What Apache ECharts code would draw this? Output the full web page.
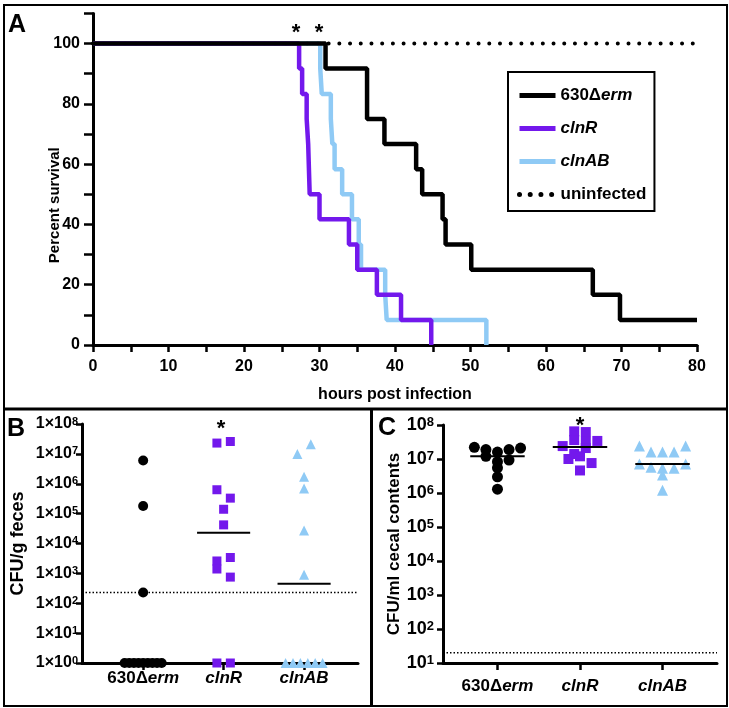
<!DOCTYPE html>
<html>
<head>
<meta charset="utf-8">
<title>Survival and colonisation</title>
<script src="https://cdn.jsdelivr.net/npm/echarts@6/dist/echarts.min.js"></script>
<style>
  html, body { margin: 0; padding: 0; background: #fff; }
  #main { width: 729px; height: 708px; }
</style>
</head>
<body>
<div id="main"></div>
<script>
// A: survival, hours post infection vs percent surviving
const wtTimes    = [0, 30.8, 36.3, 38.6, 42.8, 43.6, 46.3, 46.7, 50.1, 66.2, 69.8, 80];
const wtSurv     = [100, 91.7, 75, 66.7, 58.3, 50, 41.7, 33.3, 25, 16.7, 8.3, 8.3];
const clnRTimes  = [0, 27.3, 27.7, 28.3, 28.5, 28.7, 30.0, 33.9, 35.0, 37.6, 40.8, 44.8];
const clnRSurv   = [100, 91.7, 83.3, 75, 66.7, 50, 41.7, 33.3, 25, 16.7, 8.3, 0];
const clnABTimes = [0, 30.1, 30.3, 31.5, 31.7, 32.0, 33.0, 34.3, 35.2, 35.5, 38.7, 38.9, 52.1];
const clnABSurv  = [100, 91.7, 83.3, 75, 66.7, 58.3, 50, 41.7, 33.3, 25, 16.7, 8.3, 0];
const uninfTimes = [0, 80];
const uninfSurv  = [100, 100];

// B / C: CFU per group (undetected feces plotted at 1)
const groups      = ['630Δerm', 'clnR', 'clnAB'];
const fecesWT     = [6e6, 1.8e5, 230, 1, 1, 1, 1, 1, 1, 1, 1, 1];
const fecesClnR   = [2600, 2.3e7, 1.4e5, 1400, 1, 6.3e5, 4.2e4, 2.6e7, 3.3e5, 3400, 750, 1];
const fecesClnAB  = [1e7, 1.7e6, 2.7e4, 900, 2.1e7, 7e5, 1, 1, 1, 1, 1, 1];
const fecesLimit  = 230;
const cecalWT     = [2.2e7, 1.2e7, 1.9e7, 8.3e6, 1.3e6, 1.6e7, 9.3e6, 3.0e6, 1.9e7, 5.5e6, 2.1e7];
const cecalClnR   = [6.5e7, 2.4e7, 1e7, 3.6e7, 1.4e7, 3.2e7, 4.6e6, 1.2e7, 3.4e7, 7.6e6, 2.1e7, 6.2e7];
const cecalClnAB  = [7.1e6, 2.4e7, 5.7e6, 1.6e7, 5.3e6, 1.6e7, 1.2e6, 3.4e6, 1.6e7, 5.3e6, 2.4e7, 7.1e6];
const cecalLimit  = 20;

// tick values
const fecesTicks = [1, 1e1, 1e2, 1e3, 1e4, 1e5, 1e6, 1e7, 1e8];
const cecalTicks = [1e1, 1e2, 1e3, 1e4, 1e5, 1e6, 1e7, 1e8];
const groupTicks = [1, 2, 3];

const FONT = '"Liberation Sans", Arial, Helvetica, sans-serif';
const colors = ['#000000', '#7318ec', '#8fcaf5'];
const markers = ['circle', 'rect', 'triangle'];

function richName(name) {
  if (name.indexOf('630Δ') === 0) return '{n|630Δ}{i|' + name.slice(4) + '}';
  if (name === 'uninfected') return '{n|' + name + '}';
  return '{i|' + name + '}';
}
function nameRich(size) {
  return {
    n: { fontSize: size, fontWeight: 'bold', fontFamily: FONT, color: '#000' },
    i: { fontSize: size, fontWeight: 'bold', fontStyle: 'italic', fontFamily: FONT, color: '#000' }
  };
}
function pairs(xs, ys) { return xs.map((x, i) => [x, ys[i]]); }
function median(vals) {
  const s = vals.slice().sort((a, b) => a - b);
  const m = s.length / 2;
  return s.length % 2 ? s[Math.floor(m)] : (s[m - 1] + s[m]) / 2;
}
// simple row-based scatter spread, like a column scatter plot
function swarm(vals, center, binLog, step, maxSpan) {
  const order = vals.map((v, i) => i).sort((a, b) => vals[b] - vals[a]);
  const rows = [];
  let row = null;
  order.forEach(i => {
    const lv = Math.log10(vals[i]);
    if (!row || row.top - lv > binLog) { row = { top: lv, idx: [] }; rows.push(row); }
    row.idx.push(i);
  });
  const pts = [];
  rows.forEach(r => {
    r.idx.sort((a, b) => a - b);
    const n = r.idx.length;
    const s = n > 1 ? Math.min(step, maxSpan / (n - 1)) : 0;
    r.idx.forEach((i, k) => pts.push([center + (k - (n - 1) / 2) * s, vals[i]]));
  });
  return pts;
}

const axisLine = { lineStyle: { color: '#000', width: 3 } };
const tickStyle = { color: '#000', width: 2.5 };
const labelBase = { color: '#000', fontWeight: 'bold', fontFamily: FONT };

const bRange = [0.24, 3.67];
const cRange = [0.34, 3.66];

const series = [
  { name: 'uninfected', type: 'line', data: pairs(uninfTimes, uninfSurv), symbol: 'none',
    itemStyle: { color: '#000' },
    lineStyle: { color: '#000', width: 4, type: [0.01, 10.7], cap: 'round' }, z: 1 },
  { name: '630Δerm', type: 'line', step: 'end', data: pairs(wtTimes, wtSurv), symbol: 'none',
    itemStyle: { color: colors[0] }, lineStyle: { color: colors[0], width: 4.5 }, z: 4 },
  { name: 'clnR', type: 'line', step: 'end', data: pairs(clnRTimes, clnRSurv), symbol: 'none',
    itemStyle: { color: colors[1] }, lineStyle: { color: colors[1], width: 4.5 }, z: 3 },
  { name: 'clnAB', type: 'line', step: 'end', data: pairs(clnABTimes, clnABSurv), symbol: 'none',
    itemStyle: { color: colors[2] }, lineStyle: { color: colors[2], width: 4.5 }, z: 2 }
];

function addDotPanel(axisIdx, sets, limit, range, sizes, binLog, step, maxSpan) {
  sets.forEach((vals, g) => {
    series.push({
      type: 'scatter', xAxisIndex: axisIdx, yAxisIndex: axisIdx,
      symbol: markers[g], symbolSize: sizes[g], itemStyle: { color: colors[g], opacity: 1 },
      data: swarm(vals, g + 1, binLog, step, maxSpan), z: 3
    });
    const m = median(vals);
    series.push({
      type: 'line', xAxisIndex: axisIdx, yAxisIndex: axisIdx, symbol: 'none',
      lineStyle: { color: '#000', width: 2 }, data: [[g + 1 - 0.33, m], [g + 1 + 0.33, m]], z: 4
    });
  });
  series.push({
    type: 'line', xAxisIndex: axisIdx, yAxisIndex: axisIdx, symbol: 'none',
    lineStyle: { color: '#000', width: 1.5, type: [1.5, 2] },
    data: [[range[0], limit], [range[1], limit]], z: 2
  });
}
addDotPanel(1, [fecesWT, fecesClnR, fecesClnAB], fecesLimit, bRange, [10, 9, 10], 0.35, 0.167, 0.46);
addDotPanel(2, [cecalWT, cecalClnR, cecalClnAB], cecalLimit, cRange, [11, 10, 11], 0.22, 0.14, 0.56);

function groupAxis(gridIndex, range, margin) {
  return {
    type: 'value', gridIndex: gridIndex, min: range[0], max: range[1],
    axisLine: axisLine, splitLine: { show: false },
    axisTick: { customValues: groupTicks, length: 7, lineStyle: tickStyle },
    axisLabel: Object.assign({}, labelBase, {
      customValues: groupTicks, fontSize: 17, margin: margin,
      formatter: v => richName(groups[Math.round(v) - 1]), rich: nameRich(17)
    })
  };
}
function logAxis(gridIndex, ticks, prefix, size, margin, name, nameSize, nameGap) {
  return {
    type: 'log', logBase: 10, gridIndex: gridIndex, min: ticks[0], max: ticks[ticks.length - 1],
    axisLine: axisLine, splitLine: { show: false },
    axisTick: { customValues: ticks, length: 6, lineStyle: tickStyle },
    axisLabel: Object.assign({}, labelBase, {
      customValues: ticks, fontSize: size, margin: margin,
      formatter: v => prefix + '{s|' + Math.round(Math.log10(v)) + '}',
      rich: { s: { fontSize: Math.round(size * 0.7), fontWeight: 'bold', fontFamily: FONT, color: '#000',
                   verticalAlign: 'top', lineHeight: size, padding: [0, 0, 4, 0] } }
    }),
    name: name, nameLocation: 'middle', nameGap: nameGap, nameMoveOverlap: false,
    nameTextStyle: Object.assign({}, labelBase, { fontSize: nameSize })
  };
}

const chart = echarts.init(document.getElementById('main'));
chart.setOption({
  animation: false,
  backgroundColor: '#fff',
  textStyle: { fontFamily: FONT },
  grid: [
    { left: 93, top: 13.4, width: 604, height: 331.6, outerBoundsMode: 'none' },
    { left: 82, top: 424, width: 276, height: 239, outerBoundsMode: 'none' },
    { left: 443, top: 425, width: 274, height: 238, outerBoundsMode: 'none' }
  ],
  legend: {
    data: ['630Δerm', 'clnR', 'clnAB', 'uninfected'],
    orient: 'vertical', left: 508, top: 72,
    padding: [15, 8, 8, 9], itemGap: 16, itemWidth: 36, itemHeight: 17,
    borderColor: '#000', borderWidth: 2, borderRadius: 0,
    itemStyle: { opacity: 0 },
    lineStyle: { width: 5 },
    formatter: richName,
    textStyle: { fontSize: 17, fontWeight: 'bold', color: '#000', fontFamily: FONT, rich: nameRich(17) }
  },
  xAxis: [
    {
      type: 'value', gridIndex: 0, min: 0, max: 80, interval: 10,
      axisLine: axisLine, splitLine: { show: false },
      axisTick: { length: 7, lineStyle: tickStyle },
      minorTick: { show: true, splitNumber: 2, length: 7, lineStyle: tickStyle },
      axisLabel: Object.assign({}, labelBase, { fontSize: 16, margin: 14 }),
      name: 'hours post infection', nameLocation: 'middle', nameGap: 42, nameMoveOverlap: false,
      nameTextStyle: Object.assign({}, labelBase, { fontSize: 16 })
    },
    groupAxis(1, bRange, 7),
    groupAxis(2, cRange, 15)
  ],
  yAxis: [
    {
      type: 'value', gridIndex: 0, min: 0, max: 110, interval: 10,
      axisLine: axisLine, splitLine: { show: false },
      axisTick: { length: 9, lineStyle: tickStyle },
      axisLabel: Object.assign({}, labelBase, {
        fontSize: 16, margin: 13,
        formatter: v => (v % 20 === 0 && v <= 100 ? String(v) : '')
      }),
      name: 'Percent survival', nameLocation: 'middle', nameGap: 31, nameMoveOverlap: false,
      nameTextStyle: Object.assign({}, labelBase, { fontSize: 15, padding: [0, 52, 0, 0] })
    },
    logAxis(1, fecesTicks, '1×10', 16, 4, 'CFU/g feces', 18, 55),
    logAxis(2, cecalTicks, '10', 18, 9, 'CFU/ml cecal contents', 17, 40)
  ],
  series: series,
  graphic: [
    { type: 'rect', shape: { x: 4, y: 5, width: 723, height: 701 },
      style: { fill: 'none', stroke: '#000', lineWidth: 2 }, silent: true },
    { type: 'line', shape: { x1: 4, y1: 409, x2: 727, y2: 409 },
      style: { stroke: '#000', lineWidth: 3 }, silent: true },
    { type: 'line', shape: { x1: 371.5, y1: 409, x2: 371.5, y2: 706 },
      style: { stroke: '#000', lineWidth: 3 }, silent: true },
    { type: 'text', style: { text: 'A', x: 8, y: 25, font: 'bold 25px ' + FONT, textVerticalAlign: 'middle', fill: '#000' } },
    { type: 'text', style: { text: 'B', x: 7, y: 429, font: 'bold 25px ' + FONT, textVerticalAlign: 'middle', fill: '#000' } },
    { type: 'text', style: { text: 'C', x: 378, y: 428, font: 'bold 25px ' + FONT, textVerticalAlign: 'middle', fill: '#000' } },
    { type: 'text', style: { text: '*', x: 296, y: 33, font: 'bold 22px ' + FONT, textAlign: 'center', textVerticalAlign: 'middle', fill: '#000' } },
    { type: 'text', style: { text: '*', x: 319, y: 33, font: 'bold 22px ' + FONT, textAlign: 'center', textVerticalAlign: 'middle', fill: '#000' } },
    { type: 'text', style: { text: '*', x: 221, y: 429, font: 'bold 22px ' + FONT, textAlign: 'center', textVerticalAlign: 'middle', fill: '#000' } },
    { type: 'text', style: { text: '*', x: 580, y: 426, font: 'bold 22px ' + FONT, textAlign: 'center', textVerticalAlign: 'middle', fill: '#000' } }
  ]
});
</script>
</body>
</html>
